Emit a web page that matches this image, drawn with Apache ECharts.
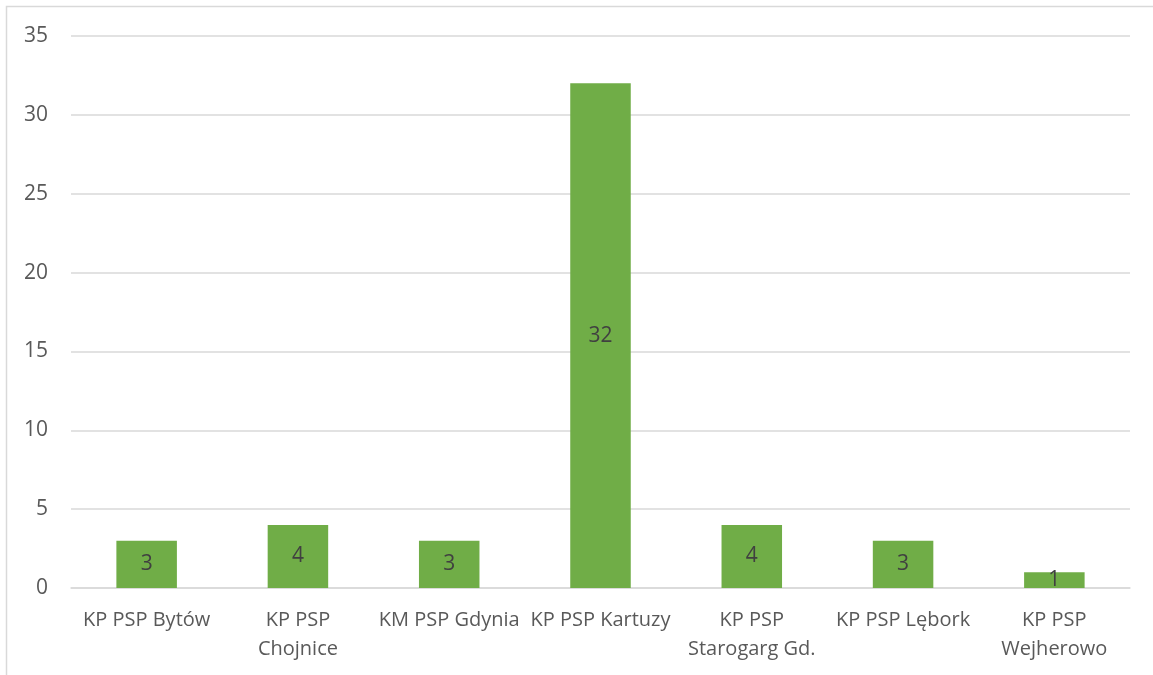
<!DOCTYPE html>
<html><head><meta charset="utf-8">
<script src="https://cdn.jsdelivr.net/npm/echarts@6/dist/echarts.min.js"></script>
<style>html,body{margin:0;padding:0;background:#fff}#c{width:1153px;height:675px}</style>
</head><body><div id="c"></div>
<script>
const categories = ["KP PSP Bytów", "KP PSP\nChojnice", "KM PSP Gdynia", "KP PSP Kartuzy", "KP PSP\nStarogarg Gd.", "KP PSP Lębork", "KP PSP\nWejherowo"];
const values = [3, 4, 3, 32, 4, 3, 1];
const yTicks = { min: 0, max: 35, interval: 5 };

const chart = echarts.init(document.getElementById('c'), null, { renderer: 'canvas' });
chart.setOption({
  animation: false,
  backgroundColor: '#fff',
  textStyle: { fontFamily: 'Open Sans' },
  graphic: [{
    type: 'rect', shape: { x: 6.5, y: 6.5, width: 1160, height: 680 },
    style: { fill: 'none', stroke: '#d9d9d9', lineWidth: 1.5 }, silent: true
  }],
  grid: { left: 71, right: 23, top: 36, bottom: 87, containLabel: false },
  xAxis: {
    type: 'category', data: categories,
    axisLine: { lineStyle: { color: '#d9d9d9', width: 1.5 } },
    axisTick: { show: false },
    axisLabel: { color: '#595959', fontSize: 20, margin: 18, lineHeight: 29, interval: 0, fontFamily: 'Open Sans' }
  },
  yAxis: {
    type: 'value', min: yTicks.min, max: yTicks.max, interval: yTicks.interval,
    axisLine: { show: false }, axisTick: { show: false },
    splitLine: { lineStyle: { color: '#d9d9d9', width: 1.5 } },
    axisLabel: { color: '#595959', fontSize: 21, margin: 23, fontFamily: 'Open Sans' }
  },
  series: [{
    type: 'bar', data: values, barWidth: '40%',
    itemStyle: { color: '#70ad47' },
    label: { show: true, position: 'inside', color: '#404040', fontSize: 21, fontFamily: 'Open Sans' }
  }]
});
</script></body></html>
